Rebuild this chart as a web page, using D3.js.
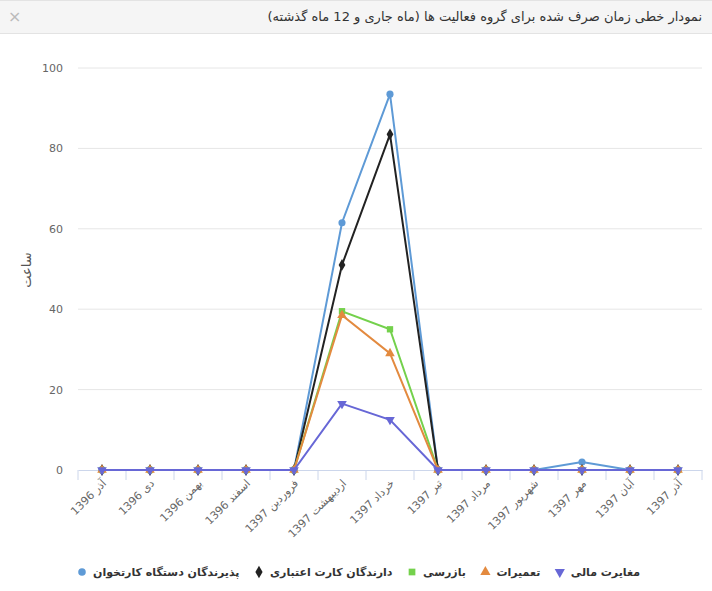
<!DOCTYPE html>
<html><head><meta charset="utf-8">
<script src="https://cdn.jsdelivr.net/npm/d3@7"></script>
<style>
body{margin:0;background:#fff;font-family:"DejaVu Sans",sans-serif;}
#head{position:absolute;left:0;top:0;width:712px;height:34px;background:#f5f5f5;border-top:1px solid #e3e3e3;border-bottom:1px solid #e3e3e3;box-sizing:border-box;}
#head .t{position:absolute;right:10px;top:8px;font-size:13px;color:#333;direction:rtl;}
#head .x{position:absolute;left:8px;top:6px;font-size:16px;color:#bbb;}
svg{position:absolute;left:0;top:0;}
</style></head><body>
<div id="head"><span class="t">نمودار خطی زمان صرف شده برای گروه فعالیت ها (ماه جاری و 12 ماه گذشته)</span><span class="x">×</span></div>
<svg id="c" width="712" height="591"></svg>
<script>
const months = ["آذر 1396","دی 1396","بهمن 1396","اسفند 1396","فروردین 1397","اردیبهشت 1397","خرداد 1397","تیر 1397","مرداد 1397","شهریور 1397","مهر 1397","آبان 1397","آذر 1397"];
const cardReaders = [0,0,0,0,0,61.5,93.5,0,0,0,2,0,0];
const creditHolders = [0,0,0,0,0,51,83.5,0,0,0,0,0,0];
const inspection = [0,0,0,0,0,39.5,35,0,0,0,0,0,0];
const repairs = [0,0,0,0,0,38.5,29,0,0,0,0,0,0];
const financial = [0,0,0,0,0,16.5,12.5,0,0,0,0,0,0];
const yTicks = [0,20,40,60,80,100];

const series = [
  {name:"پذیرندگان دستگاه کارتخوان", values:cardReaders, color:"#5e9ad6", sym:d3.symbolCircle},
  {name:"دارندگان کارت اعتباری", values:creditHolders, color:"#222", sym:d3.symbolDiamond},
  {name:"بازرسی", values:inspection, color:"#74d14c", sym:d3.symbolSquare},
  {name:"تعمیرات", values:repairs, color:"#e38a3f", sym:d3.symbolTriangle},
  {name:"مغایرت مالی", values:financial, color:"#6767d6", sym:d3.symbolTriangle, down:true}
];

const svg = d3.select("#c");
const x = d3.scaleBand(months, [78, 702]);
const y = d3.scaleLinear([0, 100], [470, 68]);
const cx = d => x(d) + x.bandwidth()/2;

svg.append("g").selectAll("line").data(yTicks.slice(1)).join("line")
  .attr("x1", 78).attr("x2", 702).attr("y1", y).attr("y2", y).attr("stroke", "#e6e6e6");
svg.append("g").selectAll("text").data(yTicks).join("text")
  .attr("x", 63).attr("y", d => y(d) + 4).attr("text-anchor", "end")
  .attr("font-size", 11).attr("fill", "#666").text(d => d);
svg.append("text").attr("transform", "translate(31,270) rotate(-90)")
  .attr("text-anchor", "middle").attr("font-size", 13).attr("fill", "#555").text("ساعت");

const xa = svg.append("g").attr("transform", "translate(0,470)")
  .call(d3.axisBottom(x).tickSize(0).tickFormat(""));
xa.select(".domain").attr("stroke", "#ccd6eb");
svg.append("g").selectAll("line").data(months.concat([null])).join("line")
  .attr("x1", (d, i) => 78 + i*x.step()).attr("x2", (d, i) => 78 + i*x.step())
  .attr("y1", 470).attr("y2", 480).attr("stroke", "#ccd6eb");
svg.append("g").selectAll("text").data(months).join("text")
  .attr("transform", d => `translate(${cx(d)+5},${484}) rotate(-45)`)
  .attr("text-anchor", "end").attr("font-size", 11).attr("fill", "#666").text(d => d);

const line = d3.line().x((d, i) => cx(months[i])).y(d => y(d));
series.forEach(s => {
  const g = svg.append("g");
  g.append("path").attr("d", line(s.values)).attr("fill", "none")
    .attr("stroke", s.color).attr("stroke-width", 2);
  g.selectAll("path.m").data(s.values).join("path").attr("class", "m")
    .attr("d", d3.symbol(s.sym, 40))
    .attr("transform", (d, i) => `translate(${cx(months[i])},${y(d)})${s.down ? " rotate(180)" : ""}`)
    .attr("fill", s.color);
});

// legend, laid out left to right with measured widths
const items = series.map(s => {
  const g = svg.append("g");
  g.append("path").attr("d", d3.symbol(s.sym, 45)).attr("fill", s.color)
    .attr("transform", s.down ? "rotate(180)" : null);
  const t = g.append("text").attr("x", 11).attr("y", 4).attr("font-size", 11).attr("font-weight", "bold")
    .attr("fill", "#333").attr("text-anchor", "start").text(s.name);
  return {g, w: 11 + t.node().getComputedTextLength()};
});
const total = d3.sum(items, d => d.w);
const gap = (640 - 82 - total) / (items.length - 1);
let lx = 82;
items.forEach(it => { it.g.attr("transform", `translate(${lx},572)`); lx += it.w + gap; });
</script></body></html>
